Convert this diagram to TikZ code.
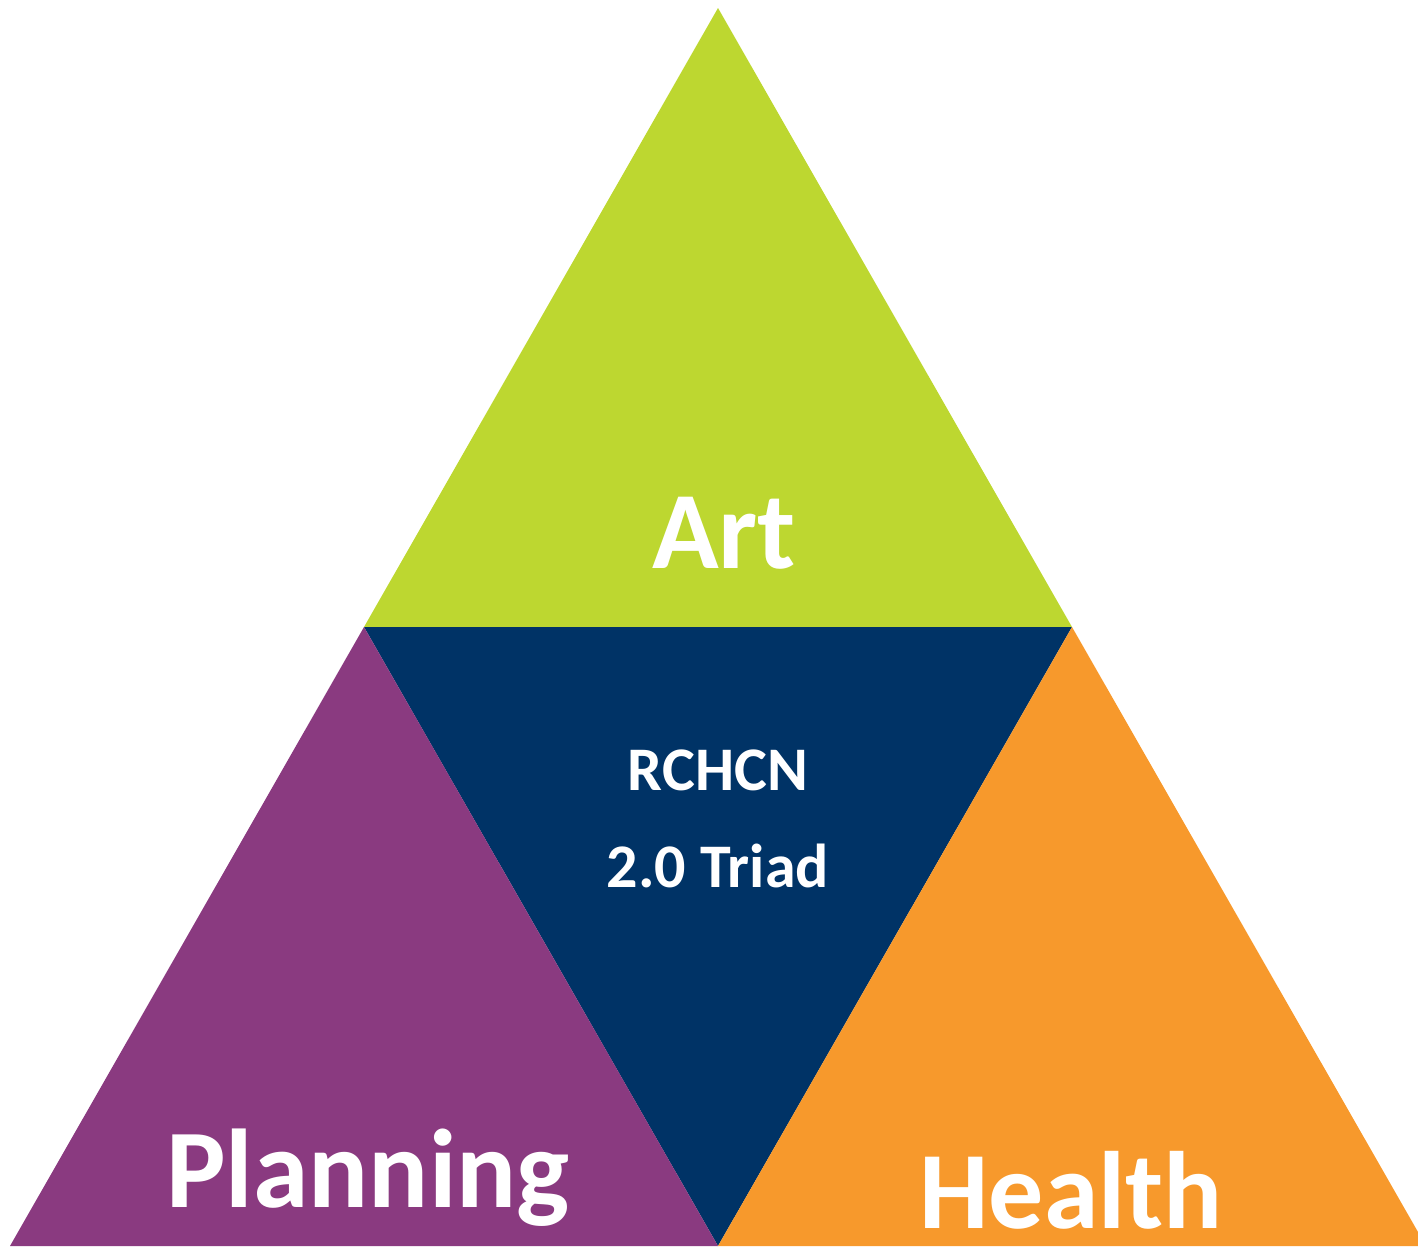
\documentclass[tikz,border=0pt]{standalone}
\usepackage{fontspec}
\setmainfont{Carlito}
\definecolor{artgreen}{RGB}{189,215,48}
\definecolor{triadnavy}{RGB}{0,51,102}
\definecolor{planpurple}{RGB}{138,58,128}
\definecolor{healthorange}{RGB}{247,153,44}
\begin{document}
\begin{tikzpicture}[x=1pt,y=-1pt,
  lbl/.style={text=white,font=\bfseries,anchor=base,inner sep=0pt}]
\useasboundingbox (0,0) rectangle (1418,1248);
\coordinate (top) at (718,8);
\coordinate (ml) at (364,627);
\coordinate (mr) at (1072,627);
\coordinate (bl) at (10,1246);
\coordinate (bm) at (718,1246);
\coordinate (re) at (1418,1232);
\coordinate (br) at (1418,1246);
\fill[artgreen] (top) -- (mr) -- (ml) -- cycle;
\fill[triadnavy] (ml) -- (mr) -- (bm) -- cycle;
\fill[planpurple] (ml) -- (bm) -- (bl) -- cycle;
\fill[healthorange] (mr) -- (re) -- (br) -- (bm) -- cycle;
\node[lbl,font=\bfseries\fontsize{110}{120}\selectfont] (art) at (724,568) {Art};
\node[lbl,font=\bfseries\fontsize{62}{70}\selectfont] (rchcn) at (718,790) {RCHCN};
\node[lbl,font=\bfseries\fontsize{62}{70}\selectfont] (triad) at (718,887) {2.0 Triad};
\node[lbl,font=\bfseries\fontsize{112}{120}\selectfont] (planning) at (368,1207) {Planning};
\node[lbl,font=\bfseries\fontsize{110}{120}\selectfont] (health) at (1071,1228) {Health};
\end{tikzpicture}
\end{document}
